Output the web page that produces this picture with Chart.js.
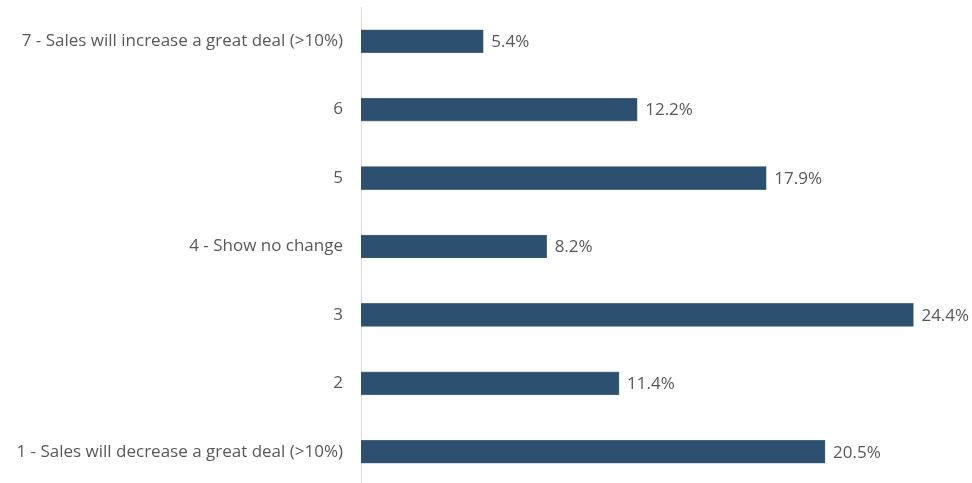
<!DOCTYPE html>
<html>
<head>
<meta charset="utf-8">
<script src="https://cdn.jsdelivr.net/npm/chart.js@4.4.1/dist/chart.umd.min.js"></script>
<style>
  html, body { margin: 0; padding: 0; background: #fff; overflow: hidden; }
  #wrap { position: relative; width: 972px; height: 487px; }
</style>
</head>
<body>
<div id="wrap"><canvas id="chartCanvas"></canvas></div>
<script>
// Expected change in sales, share of respondents (%)
const categories = [
  '7 - Sales will increase a great deal (>10%)',
  '6',
  '5',
  '4 - Show no change',
  '3',
  '2',
  '1 - Sales will decrease a great deal (>10%)'
];
const shares = [5.4, 12.2, 17.9, 8.2, 24.4, 11.4, 20.5];

const barColor = '#2e5070';
const textColor = '#595959';
const fontFamily = '"Open Sans", Lato, sans-serif';

// value labels to the right of each bar
const valueLabels = {
  id: 'valueLabels',
  afterDatasetsDraw(chart){
    const ctx = chart.ctx;
    const meta = chart.getDatasetMeta(0);
    ctx.save();
    ctx.fillStyle = textColor;
    ctx.font = '17px ' + fontFamily;
    ctx.textAlign = 'left';
    ctx.textBaseline = 'middle';
    meta.data.forEach((bar, i) => {
      ctx.fillText(shares[i].toFixed(1) + '%', bar.x + 8, bar.y + 1);
    });
    ctx.restore();
  }
};

const ctx = document.getElementById('chartCanvas').getContext('2d');
const chart = new Chart(ctx, {
  type: 'bar',
  data: {
    labels: categories,
    datasets: [{
      data: shares,
      backgroundColor: barColor,
      borderColor: '#5d7a94',
      borderWidth: 0.6,
      barThickness: 23
    }]
  },
  options: {
    indexAxis: 'y',
    responsive: true,
    maintainAspectRatio: false,
    animation: false,
    layout: { padding: { top: 7, right: 45, bottom: 1, left: 0 } },
    plugins: {
      legend: { display: false },
      tooltip: { enabled: false }
    },
    scales: {
      x: {
        display: false,
        min: 0,
        max: 25
      },
      y: {
        grid: { display: false, drawTicks: false },
        border: { color: '#d9d9d9', width: 1 },
        ticks: {
          color: textColor,
          font: { family: fontFamily, size: 17 },
          padding: 18
        },
        afterFit(scale){
          scale.width = 361;
          scale.paddingTop = 0;
          scale.paddingBottom = 0;
        }
      }
    }
  },
  plugins: [valueLabels]
});
</script>
</body>
</html>
